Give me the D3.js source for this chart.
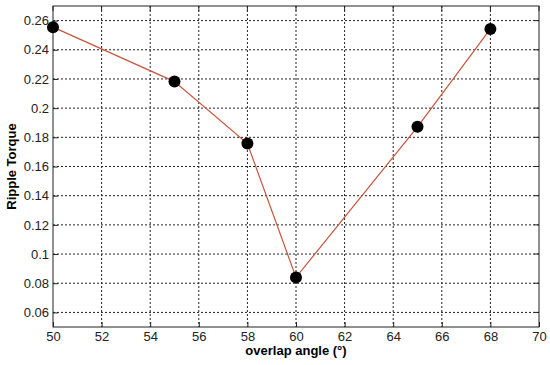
<!DOCTYPE html>
<html lang="en">
<head>
<meta charset="utf-8">
<title>Ripple Torque</title>
<script src="https://cdn.jsdelivr.net/npm/d3@7/dist/d3.min.js"></script>
<style>
  body { margin: 0; background: #fff; }
  text { font-family: Arial, "Liberation Sans", sans-serif; }
</style>
</head>
<body>
<script>
// data
var angles = [50, 55, 58, 60, 65, 68];
var ripple = [0.2555, 0.2182, 0.1757, 0.084, 0.1872, 0.2543];
var xTicks = [50, 52, 54, 56, 58, 60, 62, 64, 66, 68, 70];
var yTicks = [0.06, 0.08, 0.1, 0.12, 0.14, 0.16, 0.18, 0.2, 0.22, 0.24, 0.26];

var w = 550, h = 365;
var padL = 53, padR = 539, padT = 6, padB = 327;

var svg = d3.select("body").append("svg").attr("width", w).attr("height", h);

var x = d3.scaleLinear().domain([50, 70]).range([padL, padR]);
var y = d3.scaleLinear().domain([0.05, 0.27]).range([padB, padT]);

// grid
svg.append("g").selectAll("line").data(xTicks.slice(1, -1)).enter().append("line")
  .attr("x1", d => x(d)).attr("x2", d => x(d))
  .attr("y1", padT).attr("y2", padB)
  .attr("stroke", "#222").attr("stroke-width", 1).attr("stroke-dasharray", "2,2");
svg.append("g").selectAll("line").data(yTicks).enter().append("line")
  .attr("x1", padL).attr("x2", padR)
  .attr("y1", d => y(d)).attr("y2", d => y(d))
  .attr("stroke", "#222").attr("stroke-width", 1).attr("stroke-dasharray", "2,2");

// frame
svg.append("rect").attr("x", padL).attr("y", padT)
  .attr("width", padR - padL).attr("height", padB - padT)
  .attr("fill", "none").attr("stroke", "#222").attr("stroke-width", 1);

// axes
var xAxis = svg.append("g").attr("transform", "translate(0," + padB + ")")
  .call(d3.axisBottom(x).tickValues(xTicks).tickSize(-5).tickPadding(5).tickFormat(d3.format("d")));
var yAxis = svg.append("g").attr("transform", "translate(" + padL + ",0)")
  .call(d3.axisLeft(y).tickValues(yTicks).tickSize(-5).tickPadding(4).tickFormat(d => String(+d.toFixed(2))));
[xAxis, yAxis].forEach(function(a) {
  a.select(".domain").remove();
  a.selectAll(".tick line").attr("stroke", "#222");
  a.selectAll("text").attr("font-size", 13).attr("fill", "#222").style("font-family", "Arial, 'Liberation Sans', sans-serif");
});
// matching right/top tick marks
svg.append("g").selectAll("line").data(yTicks).enter().append("line")
  .attr("x1", padR - 5).attr("x2", padR).attr("y1", d => y(d)).attr("y2", d => y(d)).attr("stroke", "#222");
svg.append("g").selectAll("line").data(xTicks).enter().append("line")
  .attr("x1", d => x(d)).attr("x2", d => x(d)).attr("y1", padT).attr("y2", padT + 5).attr("stroke", "#222");

// series
var pts = angles.map((a, i) => [a, ripple[i]]);
svg.append("path").datum(pts)
  .attr("d", d3.line().x(d => x(d[0])).y(d => y(d[1])))
  .attr("fill", "none").attr("stroke", "#c8553d").attr("stroke-width", 1.2);
svg.append("g").selectAll("circle").data(pts).enter().append("circle")
  .attr("cx", d => x(d[0])).attr("cy", d => y(d[1])).attr("r", 6).attr("fill", "#000");

// labels
svg.append("text").attr("x", (padL + padR) / 2).attr("y", 355)
  .attr("text-anchor", "middle").attr("font-size", 13).attr("font-weight", "bold")
  .text("overlap angle (°)");
svg.append("text").attr("transform", "translate(16," + ((padT + padB) / 2) + ") rotate(-90)")
  .attr("text-anchor", "middle").attr("font-size", 13).attr("font-weight", "bold")
  .text("Ripple Torque");
</script>
</body>
</html>
